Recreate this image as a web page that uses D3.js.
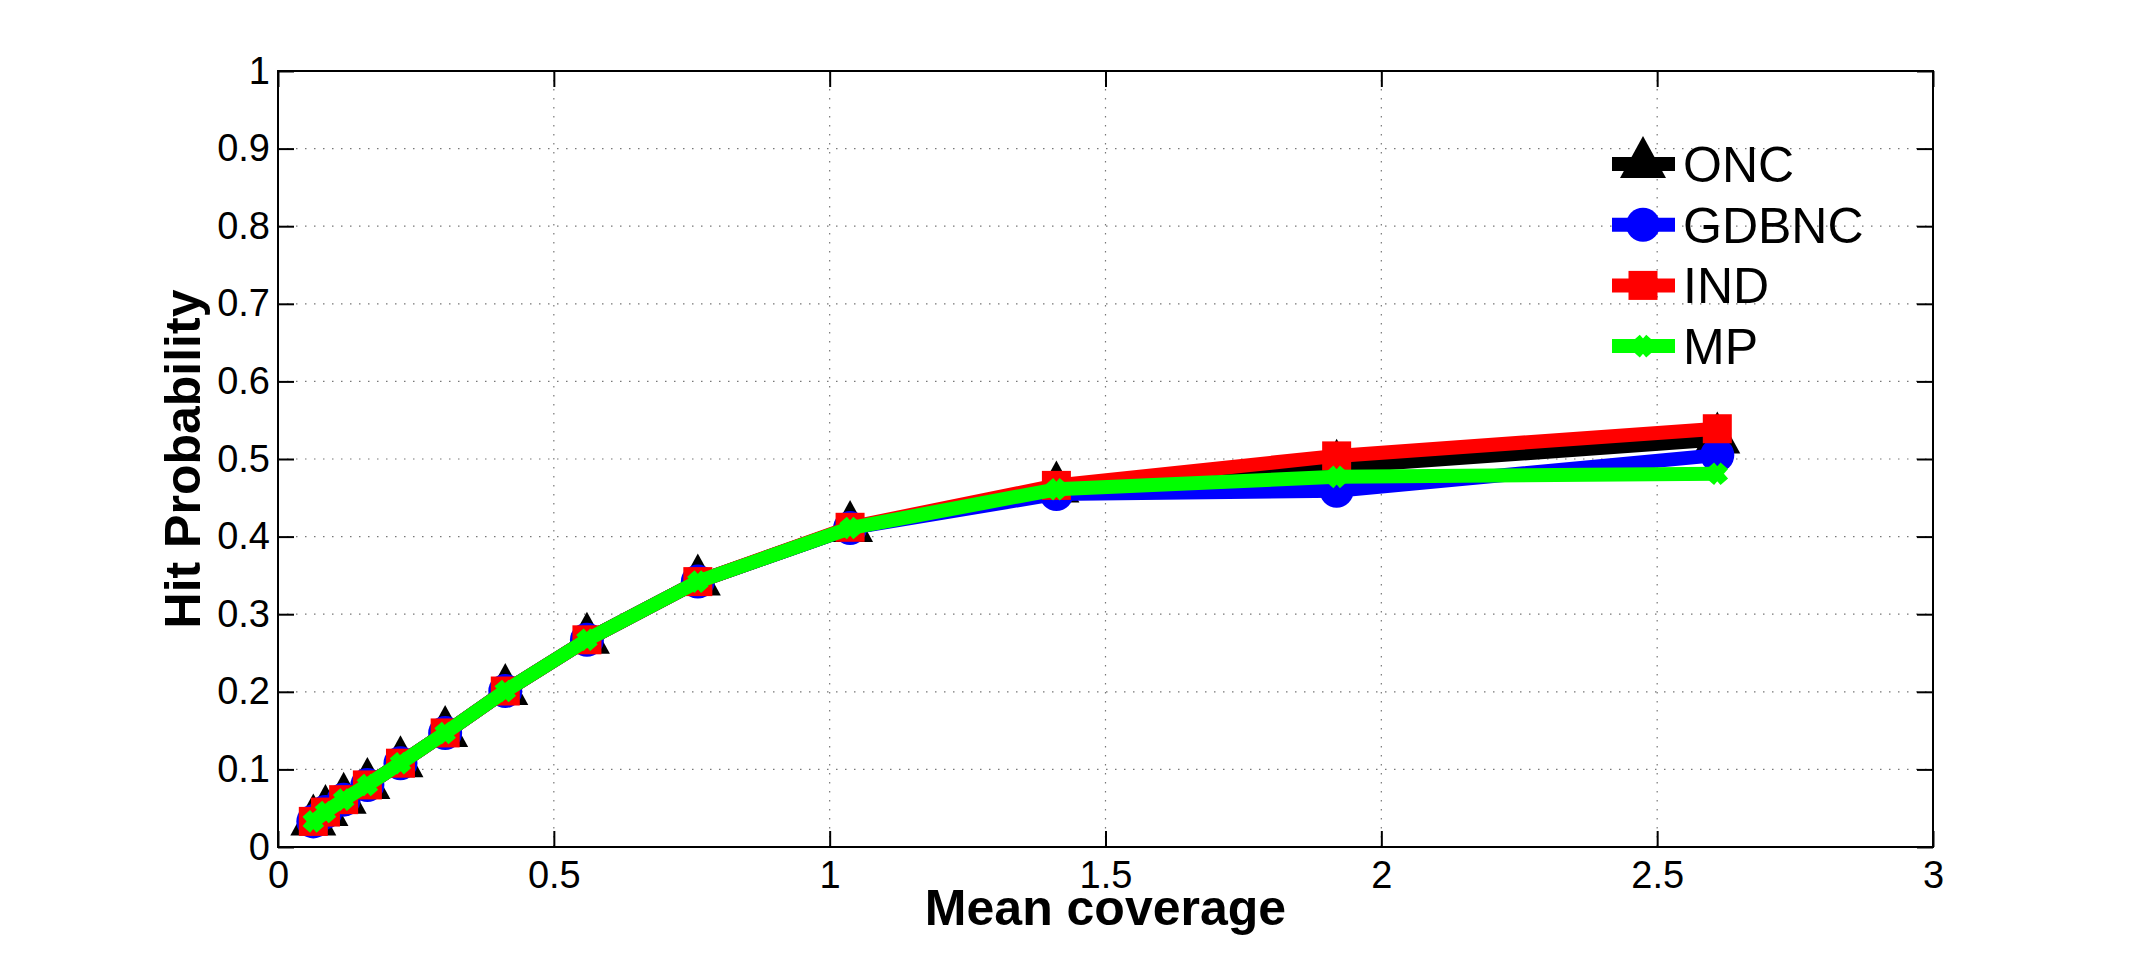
<!DOCTYPE html>
<html>
<head>
<meta charset="utf-8">
<script src="https://cdn.jsdelivr.net/npm/d3@7"></script>
<style>
  body { margin: 0; background: #fff; }
  svg { display: block; font-family: "Liberation Sans", Arial, Helvetica, sans-serif; }
</style>
</head>
<body>
<svg id="chart"></svg>
<script>
const width = 2136;
const height = 953;

// mean coverage (x) shared by all series
const coverage = [0.064, 0.086, 0.119, 0.162, 0.222, 0.303, 0.412, 0.560, 0.761, 1.037, 1.411, 1.919, 2.609];

const onc   = [0.033, 0.045, 0.061, 0.080, 0.108, 0.147, 0.201, 0.267, 0.342, 0.411, 0.462, 0.490, 0.525];
const gdbnc = [0.033, 0.045, 0.061, 0.080, 0.108, 0.147, 0.201, 0.267, 0.342, 0.411, 0.455, 0.459, 0.505];
const ind   = [0.033, 0.045, 0.061, 0.080, 0.108, 0.147, 0.201, 0.267, 0.342, 0.412, 0.466, 0.504, 0.539];
const mp    = [0.033, 0.045, 0.061, 0.080, 0.108, 0.147, 0.201, 0.267, 0.342, 0.411, 0.461, 0.477, 0.481];

const seriesNames = ["ONC", "GDBNC", "IND", "MP"];
const seriesColors = ["#000000", "#0000ff", "#ff0000", "#00ff00"];
const seriesMarkers = ["triangle", "circle", "square", "x"];

const xTicks = [0, 0.5, 1, 1.5, 2, 2.5, 3];
const yTicks = [0, 0.1, 0.2, 0.3, 0.4, 0.5, 0.6, 0.7, 0.8, 0.9, 1];

const margin = {left: 278, right: 203, top: 71, bottom: 106};
const plotW = width - margin.left - margin.right;
const plotH = height - margin.top - margin.bottom;

var xScale = d3.scaleLinear().domain([0, 3]).range([0, plotW]);
var yScale = d3.scaleLinear().domain([0, 1]).range([plotH, 0]);

var svg = d3.select("#chart").attr("width", width).attr("height", height);
var g = svg.append("g").attr("transform", `translate(${margin.left},${margin.top})`);

// grid (dotted)
g.append("g").selectAll("line").data(xTicks.slice(1, -1)).enter().append("line")
  .attr("x1", d => xScale(d)).attr("x2", d => xScale(d))
  .attr("y1", 0).attr("y2", plotH)
  .attr("stroke", "#777").attr("stroke-width", 1.2).attr("stroke-dasharray", "1.5,7.5");
g.append("g").selectAll("line").data(yTicks.slice(1, -1)).enter().append("line")
  .attr("x1", 0).attr("x2", plotW)
  .attr("y1", d => yScale(d)).attr("y2", d => yScale(d))
  .attr("stroke", "#777").attr("stroke-width", 1.2).attr("stroke-dasharray", "1.5,7.5");

// axes, ticks pointing inward like matlab
const tickLen = 16;
var xAxis = d3.axisBottom(xScale).tickValues(xTicks).tickFormat(d3.format("")).tickSizeInner(-tickLen).tickSizeOuter(0).tickPadding(14);
var yAxis = d3.axisLeft(yScale).tickValues(yTicks).tickFormat(d3.format("")).tickSizeInner(-tickLen).tickSizeOuter(0).tickPadding(8);
var xTop = d3.axisTop(xScale).tickValues(xTicks).tickFormat("").tickSizeInner(-tickLen).tickSizeOuter(0);
var yRight = d3.axisRight(yScale).tickValues(yTicks).tickFormat("").tickSizeInner(-tickLen).tickSizeOuter(0);

function styleAxis(sel) {
  sel.select(".domain").remove();
  sel.attr("font-family", null).attr("font-size", 38);
  sel.selectAll("line").attr("stroke", "#000").attr("stroke-width", 2);
  sel.selectAll("text").attr("font-size", 38).attr("fill", "#000");
}
g.append("g").attr("transform", `translate(0,${plotH})`).call(xAxis).call(styleAxis);
g.append("g").call(yAxis).call(styleAxis);
g.append("g").call(xTop).call(styleAxis);
g.append("g").attr("transform", `translate(${plotW},0)`).call(yRight).call(styleAxis);

g.append("rect").attr("x", 0).attr("y", 0).attr("width", plotW).attr("height", plotH)
  .attr("fill", "none").attr("stroke", "#000").attr("stroke-width", 2);

// markers
function drawMarker(sel, type, color) {
  if (type === "triangle") {
    sel.append("path").attr("d", "M0,-28L23,14L-23,14Z").attr("fill", color);
  } else if (type === "circle") {
    sel.append("circle").attr("r", 17).attr("fill", color);
  } else if (type === "square") {
    sel.append("rect").attr("x", -14.5).attr("y", -14.5).attr("width", 29).attr("height", 29).attr("fill", color);
  } else {
    sel.append("path").attr("d", "M-7,-8L7,8M-7,8L7,-8")
      .attr("stroke", color).attr("stroke-width", 10).attr("fill", "none");
  }
}

var allSeries = [onc, gdbnc, ind, mp];
var line = d3.line().x((d, i) => xScale(coverage[i])).y(d => yScale(d));

allSeries.forEach((vals, s) => {
  var sg = g.append("g").attr("class", "series");
  sg.append("path").datum(vals).attr("d", line)
    .attr("fill", "none").attr("stroke", seriesColors[s])
    .attr("stroke-width", 14).attr("stroke-linejoin", "round");
  sg.selectAll("g.mk").data(vals).enter().append("g").attr("class", "mk")
    .attr("transform", (d, i) => `translate(${xScale(coverage[i])},${yScale(d)})`)
    .each(function() { drawMarker(d3.select(this), seriesMarkers[s], seriesColors[s]); });
});

// legend
var legend = svg.append("g").attr("transform", "translate(1612,164)");
seriesNames.forEach((name, i) => {
  var lg = legend.append("g").attr("transform", `translate(0,${i * 60.7})`);
  lg.append("line").attr("x1", 0).attr("x2", 63).attr("y1", 0).attr("y2", 0)
    .attr("stroke", seriesColors[i]).attr("stroke-width", 14);
  var m = lg.append("g").attr("transform", "translate(31,0)");
  drawMarker(m, seriesMarkers[i], seriesColors[i]);
  lg.append("text").attr("x", 71).attr("y", 18).attr("font-size", 50).text(name);
});

// axis labels
svg.append("text").attr("x", margin.left + plotW / 2).attr("y", 925)
  .attr("text-anchor", "middle").attr("font-size", 50).attr("font-weight", "bold")
  .text("Mean coverage");
svg.append("text").attr("transform", `translate(200,${margin.top + plotH / 2}) rotate(-90)`)
  .attr("text-anchor", "middle").attr("font-size", 50).attr("font-weight", "bold")
  .text("Hit Probability");
</script>
</body>
</html>
